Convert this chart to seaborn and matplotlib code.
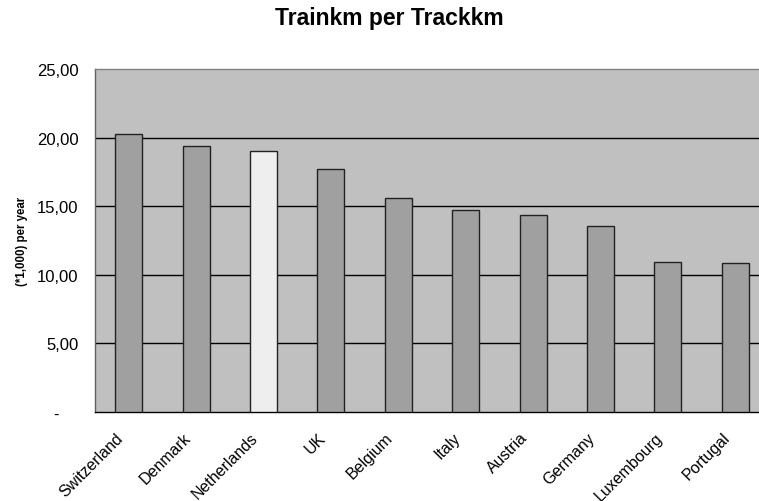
import matplotlib
matplotlib.use("Agg")
import matplotlib.pyplot as plt
import matplotlib.transforms as mtransforms
import numpy as np
import pandas as pd
import seaborn as sns

countries = ["Switzerland", "Denmark", "Netherlands", "UK", "Belgium",
             "Italy", "Austria", "Germany", "Luxembourg", "Portugal"]
trainkm = [20.24, 19.41, 19.00, 17.71, 15.57, 14.72, 14.34, 13.53, 10.93, 10.86]
highlight = "Netherlands"

y_ticks = [0, 5, 10, 15, 20, 25]
y_labels = ["-    ", "5,00", "10,00", "15,00", "20,00", "25,00"]

df = pd.DataFrame({"country": countries, "value": trainkm})
colors = {c: ("#EEEEEE" if c == highlight else "#A0A0A0") for c in countries}

sns.set_style("white")
plt.rcParams["font.family"] = ["Liberation Sans", "DejaVu Sans"]
plt.rcParams["text.color"] = "black"
plt.rcParams["xtick.color"] = "black"
plt.rcParams["ytick.color"] = "black"
plt.rcParams["axes.labelcolor"] = "black"

fig = plt.figure(figsize=(7.59, 5.02), dpi=100)
ax = fig.add_axes([95 / 759, 89 / 502, 674 / 759, 343 / 502])
ax.set_facecolor("#C0C0C0")

sns.barplot(data=df, x="country", y="value", hue="country", palette=colors,
            legend=False, width=0.4, edgecolor="#222222", linewidth=1,
            saturation=1, ax=ax, zorder=3)

ax.set_ylim(0, 25)
ax.set_xlim(-0.5, len(countries) - 0.5)
ax.set_yticks(y_ticks)
ax.set_yticklabels(y_labels, fontsize=12)
for y in y_ticks[1:-1]:
    ax.axhline(y, color="black", linewidth=1, zorder=1)

# category ticks sit between the bars
ax.set_xticks(np.arange(len(countries)))
ax.set_xticklabels(countries, rotation=45, ha="right", rotation_mode="anchor", fontsize=11.5)
ax.set_xticks(np.arange(len(countries) + 1) - 0.5, minor=True)
ax.tick_params(axis="x", which="major", length=0, pad=4)
ax.tick_params(axis="x", which="minor", length=5, width=1, color="black", direction="out")
ax.tick_params(axis="y", length=5, width=1, color="black", direction="out", pad=7)

shift = mtransforms.ScaledTranslation(-0.13, -0.12, fig.dpi_scale_trans)
for lab in ax.get_xticklabels():
    lab.set_transform(lab.get_transform() + shift)

ax.spines["right"].set_visible(False)
ax.spines["top"].set_color("#808080")
ax.spines["left"].set_color("#606060")
ax.spines["bottom"].set_color("black")
for s in ax.spines.values():
    s.set_linewidth(1)

ax.set_xlabel("")
ax.set_ylabel("(*1,000) per year", fontsize=8.3, fontweight="bold", labelpad=6)
fig.text(0.5125, 0.963, "Trainkm per Trackkm", ha="center", va="center",
         fontsize=16.5, fontweight="bold")

fig.savefig("out.png", dpi=100)
